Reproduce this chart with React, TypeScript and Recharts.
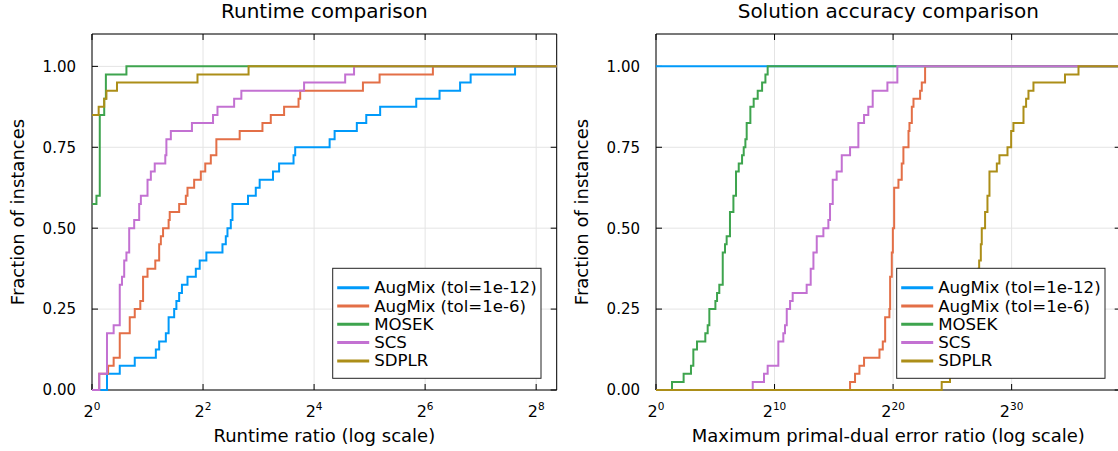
import React from 'react';
import { LineChart, Line, XAxis, YAxis, CartesianGrid, ReferenceLine, ReferenceArea } from 'recharts';

const FONT = '"DejaVu Sans", sans-serif';

const SOLVERS = ['AugMix (tol=1e-12)', 'AugMix (tol=1e-6)', 'MOSEK', 'SCS', 'SDPLR'];
const COLORS = ['#009afa', '#e36f47', '#3ea44e', '#c371d2', '#ac8e18'];

const Y_TICKS = [0, 0.25, 0.5, 0.75, 1];
const RUNTIME_X_TICKS = [0, 2, 4, 6, 8];
const ACCURACY_X_TICKS = [0, 10, 20, 30];
const RUNTIME_X_MAX = 8.37;
const ACCURACY_X_MAX = 39.2;
const Y_MAX = 1.1;

// runtime profile: [log2 of ratio, fraction of instances]
const runtimeAug12: number[][] = [
  [0, 0], [0.27, 0.05], [0.5, 0.075], [0.77, 0.1], [1.15, 0.125], [1.21, 0.15], [1.33, 0.175],
  [1.38, 0.225], [1.48, 0.25], [1.52, 0.275], [1.57, 0.3], [1.62, 0.325], [1.72, 0.35], [1.87, 0.375],
  [1.94, 0.4], [2.06, 0.425], [2.35, 0.45], [2.41, 0.475], [2.44, 0.5], [2.5, 0.525], [2.53, 0.575],
  [2.81, 0.6], [2.95, 0.625], [3.02, 0.65], [3.26, 0.675], [3.37, 0.7], [3.63, 0.725], [3.66, 0.75],
  [4.28, 0.775], [4.37, 0.8], [4.77, 0.825], [4.94, 0.85], [5.19, 0.875], [5.84, 0.9], [6.26, 0.925],
  [6.63, 0.95], [6.82, 0.975], [7.62, 1],
];
const runtimeAug6: number[][] = [
  [0, 0], [0.13, 0.05], [0.29, 0.075], [0.39, 0.1], [0.5, 0.175], [0.68, 0.225], [0.77, 0.25],
  [0.87, 0.275], [0.92, 0.35], [1.0, 0.375], [1.14, 0.4], [1.21, 0.45], [1.24, 0.475], [1.28, 0.5],
  [1.38, 0.525], [1.4, 0.55], [1.57, 0.575], [1.69, 0.6], [1.72, 0.625], [1.84, 0.65], [1.96, 0.675],
  [2.04, 0.7], [2.14, 0.725], [2.24, 0.775], [2.66, 0.8], [3.07, 0.825], [3.22, 0.85], [3.46, 0.875],
  [3.72, 0.9], [3.75, 0.925], [4.88, 0.95], [5.18, 0.975], [6.14, 1],
];
const runtimeMosek: number[][] = [
  [0, 0.575], [0.08, 0.6], [0.14, 0.85], [0.22, 0.9], [0.25, 0.975], [0.62, 1],
];
const runtimeScs: number[][] = [
  [0, 0], [0.13, 0.05], [0.27, 0.175], [0.39, 0.2], [0.5, 0.325], [0.54, 0.35], [0.58, 0.4],
  [0.62, 0.425], [0.67, 0.5], [0.76, 0.525], [0.85, 0.575], [0.88, 0.6], [1.0, 0.65], [1.06, 0.675],
  [1.13, 0.7], [1.32, 0.725], [1.34, 0.775], [1.42, 0.8], [1.8, 0.825], [2.18, 0.85], [2.26, 0.875],
  [2.56, 0.9], [2.69, 0.925], [3.82, 0.95], [4.56, 0.975], [4.72, 1],
];
const runtimeSdplr: number[][] = [
  [0, 0.85], [0.12, 0.875], [0.22, 0.9], [0.26, 0.925], [0.45, 0.95], [1.9, 0.975], [2.82, 1],
];

// accuracy profile: [log2 of ratio, fraction of instances]
const accAug12: number[][] = [[0, 1]];
const accAug6: number[][] = [
  [0, 0], [16.37, 0.025], [16.79, 0.05], [17.16, 0.075], [17.55, 0.1], [18.85, 0.125], [19.13, 0.15],
  [19.33, 0.225], [19.69, 0.25], [19.75, 0.35], [19.89, 0.425], [19.98, 0.5], [20.09, 0.625],
  [20.45, 0.65], [20.73, 0.7], [20.87, 0.75], [21.3, 0.8], [21.38, 0.825], [21.58, 0.875],
  [21.72, 0.9], [22.28, 0.925], [22.42, 0.95], [22.7, 1],
];
const accMosek: number[][] = [
  [0, 0], [1.35, 0.025], [2.33, 0.05], [2.95, 0.075], [3.15, 0.125], [3.46, 0.15], [4.16, 0.175],
  [4.36, 0.2], [4.5, 0.25], [5.01, 0.275], [5.15, 0.3], [5.34, 0.325], [5.63, 0.425], [5.82, 0.45],
  [5.96, 0.475], [6.24, 0.55], [6.53, 0.6], [6.75, 0.675], [6.98, 0.7], [7.26, 0.725], [7.4, 0.75],
  [7.54, 0.775], [7.65, 0.825], [7.96, 0.875], [8.24, 0.9], [8.58, 0.925], [8.95, 0.95], [9.23, 0.975],
  [9.42, 1],
];
const accScs: number[][] = [
  [0, 0], [8.16, 0.025], [9.11, 0.05], [9.42, 0.075], [10.32, 0.15], [10.74, 0.175], [10.88, 0.2],
  [11.03, 0.25], [11.31, 0.275], [11.53, 0.3], [12.71, 0.325], [13.05, 0.375], [13.28, 0.425],
  [13.56, 0.475], [14.12, 0.5], [14.54, 0.525], [14.68, 0.575], [14.91, 0.65], [15.24, 0.675],
  [15.67, 0.725], [16.37, 0.75], [17.07, 0.825], [17.55, 0.85], [17.91, 0.875], [18.28, 0.925],
  [19.52, 0.95], [20.36, 1],
];
const accSdplr: number[][] = [
  [0, 0], [24.1, 0.025], [24.8, 0.05], [25.3, 0.075], [25.7, 0.125], [26.1, 0.175], [26.5, 0.225],
  [26.8, 0.275], [27.05, 0.325], [27.2, 0.375], [27.26, 0.4], [27.4, 0.45], [27.48, 0.5],
  [27.76, 0.55], [27.96, 0.6], [28.13, 0.675], [28.75, 0.7], [28.97, 0.725], [29.65, 0.75],
  [29.96, 0.8], [30.15, 0.825], [31.0, 0.875], [31.22, 0.9], [31.42, 0.925], [31.84, 0.95],
  [34.5, 0.975], [35.64, 1],
];

const PLOT_W = 464.7;
const PLOT_H = 356;
const TICK_LEN = 6;

// step series run on to the right edge of the axis
const toRows = (pts: number[][], xMax: number) =>
  [...pts, [xMax, pts[pts.length - 1][1]]].map(([x, y]) => ({ x, y }));

const PowTick = (props: any) => {
  const { x, y, payload } = props;
  return (
    <text x={x} y={y + 27} textAnchor="middle" fontFamily={FONT} fill="#000">
      <tspan fontSize={16}>2</tspan>
      <tspan fontSize={10.5} dy={-7}>{payload.value}</tspan>
    </text>
  );
};

function Panel({ series, xMax, xTicks, yAxisWidth, width }: {
  series: number[][][]; xMax: number; xTicks: number[]; yAxisWidth: number; width: number;
}) {
  const dx = (TICK_LEN * xMax) / PLOT_W;
  const dy = (TICK_LEN * Y_MAX) / PLOT_H;
  return (
    <LineChart width={width} height={451} margin={{ top: 34, right: 3.3, bottom: 31, left: 0 }}>
      <CartesianGrid stroke="#e4e4e4" />
      <XAxis
        type="number" dataKey="x" domain={[0, xMax]} ticks={xTicks} interval={0} height={30}
        axisLine={false} tickLine={false} tickSize={0} tickMargin={0} tick={<PowTick />}
      />
      <YAxis
        type="number" domain={[0, Y_MAX]} ticks={Y_TICKS} width={yAxisWidth} interval={0}
        axisLine={false} tickLine={false} tickSize={0} tickMargin={16}
        tickFormatter={(v: number) => v.toFixed(2)}
        tick={{ fill: '#000', fontSize: 15, fontFamily: FONT }}
      />
      <ReferenceArea x1={0} x2={xMax} y1={0} y2={Y_MAX} fill="none" fillOpacity={0} stroke="#000" strokeWidth={1} />
      {xTicks.map(t => (
        <ReferenceLine key={'xb' + t} segment={[{ x: t, y: 0 }, { x: t, y: dy }]} stroke="#000" />
      ))}
      {xTicks.map(t => (
        <ReferenceLine key={'xt' + t} segment={[{ x: t, y: Y_MAX }, { x: t, y: Y_MAX - dy }]} stroke="#000" />
      ))}
      {Y_TICKS.map(t => (
        <ReferenceLine key={'yl' + t} segment={[{ x: 0, y: t }, { x: dx, y: t }]} stroke="#000" />
      ))}
      {Y_TICKS.map(t => (
        <ReferenceLine key={'yr' + t} segment={[{ x: xMax, y: t }, { x: xMax - dx, y: t }]} stroke="#000" />
      ))}
      {series.map((s, i) => (
        <Line
          key={SOLVERS[i]} data={toRows(s, xMax)} dataKey="y" type="stepAfter"
          stroke={COLORS[i]} strokeWidth={2} dot={false} isAnimationActive={false}
        />
      ))}
    </LineChart>
  );
}

function Legend({ x, y }: { x: number; y: number }) {
  return (
    <g>
      <rect x={x} y={y} width={208.3} height={110} fill="#fff" stroke="#222" strokeWidth={1} />
      {SOLVERS.map((name, i) => {
        const cy = y + 19.4 + i * 18.3;
        return (
          <g key={name}>
            <line x1={x + 4.5} x2={x + 36.5} y1={cy} y2={cy} stroke={COLORS[i]} strokeWidth={3} />
            <text x={x + 41.5} y={cy} dominantBaseline="central" fontSize={16.6} fontFamily={FONT} fill="#000">{name}</text>
          </g>
        );
      })}
    </g>
  );
}

export default function App() {
  return (
    <div style={{ position: 'absolute', left: 0, top: 0, width: 1118, height: 451, overflow: 'hidden', background: '#fff' }}>
      <div style={{ position: 'absolute', left: 0, top: 0 }}>
        <Panel
          series={[runtimeAug12, runtimeAug6, runtimeMosek, runtimeScs, runtimeSdplr]}
          xMax={RUNTIME_X_MAX} xTicks={RUNTIME_X_TICKS} yAxisWidth={92} width={560}
        />
      </div>
      <div style={{ position: 'absolute', left: 560, top: 0 }}>
        <Panel
          series={[accAug12, accAug6, accMosek, accScs, accSdplr]}
          xMax={ACCURACY_X_MAX} xTicks={ACCURACY_X_TICKS} yAxisWidth={96} width={564}
        />
      </div>
      <svg width={1118} height={451} style={{ position: 'absolute', left: 0, top: 0, pointerEvents: 'none' }}>
        <g fontFamily={FONT} fill="#000" textAnchor="middle">
          <text x={324.3} y={18} fontSize={20}>Runtime comparison</text>
          <text x={888.3} y={18} fontSize={20}>Solution accuracy comparison</text>
          <text x={324.3} y={442} fontSize={18}>Runtime ratio (log scale)</text>
          <text x={888.3} y={442} fontSize={18}>Maximum primal-dual error ratio (log scale)</text>
          <text transform="translate(24,212) rotate(-90)" fontSize={18}>Fraction of instances</text>
          <text transform="translate(588,212) rotate(-90)" fontSize={18}>Fraction of instances</text>
        </g>
        <Legend x={332.7} y={268.3} />
        <Legend x={896.7} y={268.3} />
      </svg>
    </div>
  );
}
